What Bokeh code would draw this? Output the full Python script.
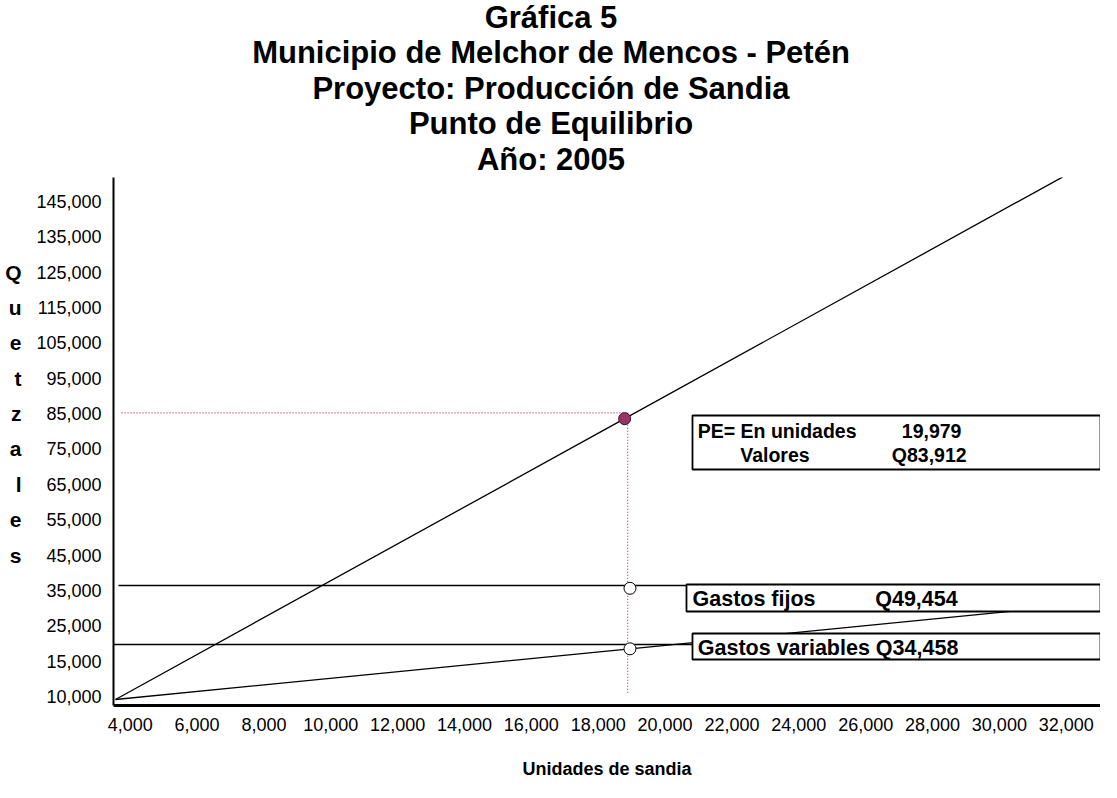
from bokeh.plotting import figure
from bokeh.models import Range1d, Label, BoxAnnotation, FixedTicker, LinearAxis
from bokeh.layouts import column
from bokeh.embed import file_html
from bokeh.resources import INLINE

# ---------------- data ----------------
title_lines = ["Gráfica 5",
               "Municipio de Melchor de Mencos - Petén",
               "Proyecto: Producción de Sandia",
               "Punto de Equilibrio",
               "Año: 2005"]

x_tick_values = [4000, 6000, 8000, 10000, 12000, 14000, 16000, 18000,
                 20000, 22000, 24000, 26000, 28000, 30000, 32000]
x_tick_labels = ["4,000", "6,000", "8,000", "10,000", "12,000", "14,000", "16,000", "18,000",
                 "20,000", "22,000", "24,000", "26,000", "28,000", "30,000", "32,000"]
y_tick_values = [5000, 15000, 25000, 35000, 45000, 55000, 65000, 75000,
                 85000, 95000, 105000, 115000, 125000, 135000, 145000]
y_tick_labels = ["10,000", "15,000", "25,000", "35,000", "45,000", "55,000", "65,000", "75,000",
                 "85,000", "95,000", "105,000", "115,000", "125,000", "135,000", "145,000"]

x_title = "Unidades de sandia"
y_title_letters = ["Q", "u", "e", "t", "z", "a", "l", "e", "s"]
y_title_levels = [125000, 115000, 105000, 95000, 85000, 75000, 65000, 55000, 45000]

# Ingresos (ventas) line
ingresos_x = [3560, 18790, 31900]
ingresos_y = [4175, 83550, 151900]
# Gastos variables (sloped) line
variables_x = [3560, 18950, 33000]
variables_y = [4175, 18500, 31560]
# Gastos fijos horizontal line
fijos_x = [3650, 33025]
fijos_y = [36400, 36400]
# leader line to the "Gastos variables" box
leader_x = [3500, 21500]
leader_y = [19720, 19720]

# break-even point and markers
pe_x = [18790]
pe_y = [83550]
guide_h_x = [3740, 18880]
guide_h_y = [85200, 85200]
guide_v_x = [18880, 18880]
guide_v_y = [85200, 5870]
open_x = [18950, 18950]
open_y = [35600, 18500]

pe_units_text = "19,979"
pe_value_text = "Q83,912"
fijos_text = "Q49,454"
variables_text = "Q34,458"

X0, X1 = 3500, 33025
Y0, Y1 = 2480, 151715

FONT = "Liberation Sans"
FRAME_LEFT = 113
WIDTH = 1100

# ---------------- title block ----------------
t = figure(width=WIDTH, height=177, x_range=Range1d(FRAME_LEFT, WIDTH), y_range=Range1d(0, 177),
           output_backend="svg", toolbar_location=None, title=None,
           x_axis_type=None, y_axis_type=None, min_border=0, min_border_left=FRAME_LEFT)
t.outline_line_color = None
t.xgrid.visible = False
t.ygrid.visible = False
for line, yy in zip(title_lines, [160.5, 125, 89.5, 54, 18.5]):
    t.add_layout(Label(x=550.5, y=yy, text=line, text_font=FONT, text_font_size="31px",
                       text_font_style="bold", text_align="center", text_baseline="middle",
                       text_color="black"))

# ---------------- main chart ----------------
p = figure(width=WIDTH, height=605, x_range=Range1d(X0, X1), y_range=Range1d(Y0, Y1),
           output_backend="svg", toolbar_location=None, title=None,
           min_border_left=FRAME_LEFT, min_border_right=0, min_border_top=0, min_border_bottom=77)
p.outline_line_color = None
p.xgrid.visible = False
p.ygrid.visible = False

p.xaxis.ticker = FixedTicker(ticks=x_tick_values)
p.xaxis.major_label_overrides = {v: l for v, l in zip(x_tick_values, x_tick_labels)}
p.yaxis.ticker = FixedTicker(ticks=y_tick_values)
p.yaxis.major_label_overrides = {v: l for v, l in zip(y_tick_values, y_tick_labels)}

letters_axis = LinearAxis(ticker=FixedTicker(ticks=y_title_levels),
                          major_label_overrides={v: l for v, l in zip(y_title_levels, y_title_letters)})
p.add_layout(letters_axis, "left")

for ax in (p.xaxis[0], p.yaxis[0], letters_axis):
    ax.major_tick_out = 0
    ax.major_tick_in = 0
    ax.minor_tick_out = 0
    ax.minor_tick_in = 0
    ax.axis_line_color = "black"
    ax.major_label_text_font = FONT
    ax.major_label_text_font_size = "18px"
    ax.major_label_text_color = "black"
letters_axis.axis_line_color = None
letters_axis.major_label_text_font_size = "21px"
letters_axis.major_label_text_font_style = "bold"
letters_axis.major_label_standoff = 19

p.xaxis.axis_line_width = 3
p.yaxis.axis_line_width = 2
p.xaxis.major_label_standoff = 12
p.yaxis.major_label_standoff = 12
p.xaxis.axis_label = x_title
p.xaxis.axis_label_text_font = FONT
p.xaxis.axis_label_text_font_size = "18px"
p.xaxis.axis_label_text_font_style = "bold"
p.xaxis.axis_label_text_color = "black"
p.xaxis.axis_label_standoff = 25

# lines
p.line(ingresos_x, ingresos_y, line_color="black", line_width=1.3)
p.line(variables_x, variables_y, line_color="black", line_width=1.3)
p.line(fijos_x, fijos_y, line_color="black", line_width=1.3)
p.line(leader_x, leader_y, line_color="black", line_width=1.3)
p.line(guide_h_x, guide_h_y, line_color="#CC3366", line_width=1.2, line_dash="1 2")
p.line(guide_v_x, guide_v_y, line_color="#CC3366", line_width=1.2, line_dash="1 2")

p.scatter(open_x, open_y, size=12, marker="circle", fill_color="white", line_color="black", line_width=1)
p.scatter(pe_x, pe_y, size=12, marker="circle", fill_color="#993366", line_color="#3a1028", line_width=1)

# text boxes
for left, top, bottom in [(20820, 84445, 69180), (20640, 36680, 29050), (20820, 22830, 15480)]:
    p.add_layout(BoxAnnotation(left=left, top=top, bottom=bottom, fill_color="white", fill_alpha=1,
                               line_color="black", line_width=1.8, line_alpha=1))

def lab(text, dx, dy, size):
    p.add_layout(Label(x=X0, y=Y0, x_offset=dx, y_offset=dy, text=text, text_font=FONT,
                       text_font_size=size, text_font_style="bold", text_align="left",
                       text_baseline="middle", text_color="black"))

lab("PE= En unidades", 584.3, 275, "19.5px")
lab(pe_units_text, 788.3, 275, "19.5px")
lab("Valores", 626.7, 251, "19.5px")
lab(pe_value_text, 778.3, 251, "19.5px")
lab("Gastos fijos", 579, 106.3, "21.5px")
lab(fijos_text, 761.7, 106.3, "21.5px")
lab("Gastos variables " + variables_text, 584.3, 57.7, "21.5px")

layout = column(t, p, spacing=0)
open("out.html", "w").write(file_html(layout, INLINE))
